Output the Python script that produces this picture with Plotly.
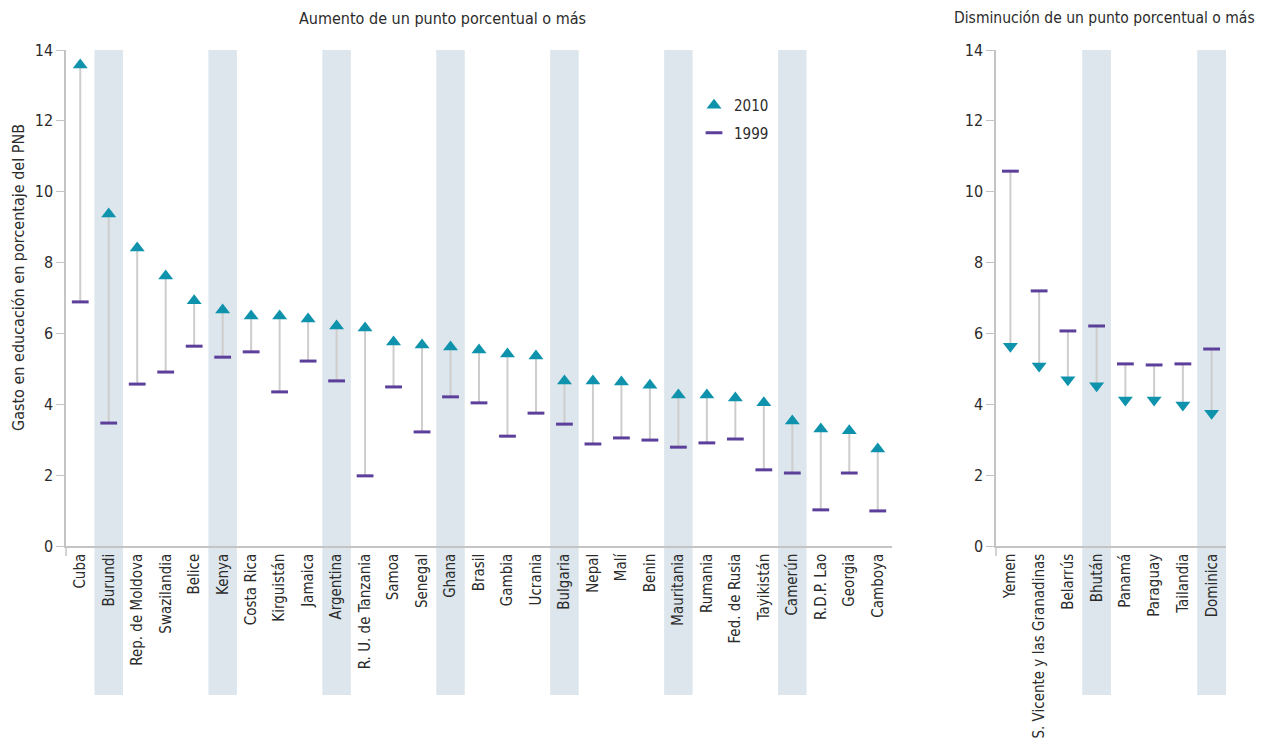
import plotly.graph_objects as go

# ---------------- data ----------------
inc_countries = ["Cuba", "Burundi", "Rep. de Moldova", "Swazilandia", "Belice", "Kenya",
                 "Costa Rica", "Kirguistán", "Jamaica", "Argentina", "R. U. de Tanzania",
                 "Samoa", "Senegal", "Ghana", "Brasil", "Gambia", "Ucrania", "Bulgaria",
                 "Nepal", "Malí", "Benin", "Mauritania", "Rumania", "Fed. de Rusia",
                 "Tayikistán", "Camerún", "R.D.P. Lao", "Georgia", "Camboya"]
inc_2010 = [13.58, 9.37, 8.41, 7.62, 6.92, 6.66, 6.49, 6.49, 6.41, 6.21, 6.15, 5.76, 5.67,
            5.62, 5.53, 5.42, 5.36, 4.66, 4.66, 4.63, 4.54, 4.26, 4.26, 4.18, 4.04, 3.53,
            3.30, 3.25, 2.74]
inc_1999 = [6.89, 3.47, 4.57, 4.91, 5.64, 5.33, 5.48, 4.35, 5.22, 4.66, 1.98, 4.49, 3.22,
            4.21, 4.04, 3.10, 3.75, 3.44, 2.88, 3.05, 2.99, 2.79, 2.91, 3.02, 2.15, 2.06,
            1.02, 2.06, 0.99]

dec_countries = ["Yemen", "S. Vicente y las Granadinas", "Belarrús", "Bhután", "Panamá",
                 "Paraguay", "Tailandia", "Dominica"]
dec_2010 = [5.64, 5.08, 4.69, 4.52, 4.12, 4.12, 3.98, 3.75]
dec_1999 = [10.58, 7.20, 6.07, 6.21, 5.14, 5.11, 5.14, 5.56]

inc_shaded = ["Burundi", "Kenya", "Argentina", "Ghana", "Bulgaria", "Mauritania", "Camerún"]
dec_shaded = ["Bhután", "Dominica"]

title_left = "Aumento de un punto porcentual o más"
title_right = "Disminución de un punto porcentual o más"
y_title = "Gasto en educación en porcentaje del PNB"
y_ticks = [0, 2, 4, 6, 8, 10, 12, 14]

# ---------------- style ----------------
FONT = "Liberation Sans Narrow, DejaVu Sans Condensed, Arial Narrow, sans-serif"
TEAL = "#0f93ad"
PURPLE = "#5b3f9b"
CONN = "#cfcccc"
BAND = "#dce6ec"
AXIS = "#c4c4c4"
TXT = "#2b2b2b"

# page has an 8px body margin: figure is drawn from (8, 8)
OFF = 8
W, H = 1264, 746
ML, MT = 66 - OFF, 50 - OFF
MR = W + OFF - 1226
MB = H + OFF - 546
PW = W - ML - MR  # plot width in px
PH = H - MT - MB


def px_x(px):
    return (px - 66) / PW


def px_y(py):
    return (546 - py) / PH


fig = go.Figure()


def connectors(cats, a, b, xa, ya):
    xs, ys = [], []
    for c, v1, v2 in zip(cats, a, b):
        xs += [c, c, None]
        ys += [v1, v2, None]
    return go.Scatter(x=xs, y=ys, mode="lines", line=dict(color=CONN, width=2),
                      hoverinfo="skip", showlegend=False, xaxis=xa, yaxis=ya)


# left panel
fig.add_trace(connectors(inc_countries, inc_1999, inc_2010, "x", "y"))
fig.add_trace(go.Scatter(x=inc_countries, y=inc_2010, mode="markers", name="2010",
                         legendgroup="a",
                         marker=dict(symbol="triangle-up", size=13, color=TEAL),
                         xaxis="x", yaxis="y"))
fig.add_trace(go.Scatter(x=inc_countries, y=inc_1999, mode="markers", name="1999",
                         legendgroup="b",
                         marker=dict(symbol="line-ew", size=12,
                                     line=dict(color=PURPLE, width=3)),
                         xaxis="x", yaxis="y"))

# right panel
fig.add_trace(connectors(dec_countries, dec_1999, dec_2010, "x2", "y2"))
fig.add_trace(go.Scatter(x=dec_countries, y=dec_1999, mode="markers", showlegend=False,
                         marker=dict(symbol="line-ew", size=12,
                                     line=dict(color=PURPLE, width=3)),
                         xaxis="x2", yaxis="y2"))
fig.add_trace(go.Scatter(x=dec_countries, y=dec_2010, mode="markers", showlegend=False,
                         marker=dict(symbol="triangle-down", size=13, color=TEAL),
                         xaxis="x2", yaxis="y2"))

# shaded bands (extend down behind the category labels)
band_bottom = px_y(695)
shapes = []
for c in inc_shaded:
    i = inc_countries.index(c)
    shapes.append(dict(type="rect", xref="x", yref="paper", x0=i - 0.5, x1=i + 0.5,
                       y0=band_bottom, y1=1, fillcolor=BAND, line=dict(width=0),
                       layer="below"))
for c in dec_shaded:
    i = dec_countries.index(c)
    shapes.append(dict(type="rect", xref="x2", yref="paper", x0=i - 0.5, x1=i + 0.5,
                       y0=band_bottom, y1=1, fillcolor=BAND, line=dict(width=0),
                       layer="below"))
# small extension of y axis lines below the x axis
for xr in ["x domain", "x2 domain"]:
    shapes.append(dict(type="line", xref=xr, yref="paper", x0=0, x1=0, y0=0,
                       y1=px_y(556), line=dict(color=AXIS, width=1.5)))

common_x = dict(type="category", showline=True, linecolor=AXIS, linewidth=1.5,
                showgrid=False, zeroline=False, ticks="", tickangle=-90,
                automargin=False,
                tickfont=dict(family=FONT, size=15, color=TXT))
common_y = dict(range=[0, 14], tickvals=y_ticks, showline=True, linecolor=AXIS,
                linewidth=1.5, showgrid=False, zeroline=False, ticks="outside",
                ticklen=8, tickcolor=AXIS, tickwidth=1, automargin=False,
                tickfont=dict(family=FONT, size=16, color=TXT))

fig.update_layout(
    width=W, height=H,
    margin=dict(l=ML, r=MR, t=MT, b=MB),
    plot_bgcolor="white", paper_bgcolor="white",
    font=dict(family=FONT, size=15, color=TXT),
    xaxis=dict(domain=[0, px_x(892)], range=[-0.5, 28.5],
               categoryorder="array", categoryarray=inc_countries, **common_x),
    xaxis2=dict(domain=[px_x(996), 1], range=[-0.5, 7.5], anchor="y2",
                categoryorder="array", categoryarray=dec_countries, **common_x),
    yaxis=dict(anchor="x", **common_y),
    yaxis2=dict(anchor="x2", **common_y),
    shapes=shapes,
    showlegend=True,
    legend=dict(x=px_x(694), y=px_y(89), xanchor="left", yanchor="top",
                bgcolor="rgba(0,0,0,0)", tracegroupgap=5,
                font=dict(family=FONT, size=15, color=TXT)),
    annotations=[
        dict(text=title_left, xref="paper", yref="paper", x=px_x(442),
             y=px_y(18), xanchor="center", yanchor="middle", showarrow=False,
             font=dict(family=FONT, size=16, color=TXT)),
        dict(text=title_right, xref="paper", yref="paper", x=px_x(1104),
             y=px_y(18), xanchor="center", yanchor="middle", showarrow=False,
             font=dict(family=FONT, size=15.5, color=TXT)),
        dict(text=y_title, xref="paper", yref="paper", x=px_x(18),
             y=px_y(278), xanchor="center", yanchor="middle", showarrow=False,
             textangle=-90, font=dict(family=FONT, size=16, color=TXT)),
    ],
)

fig.write_html("out.html")
